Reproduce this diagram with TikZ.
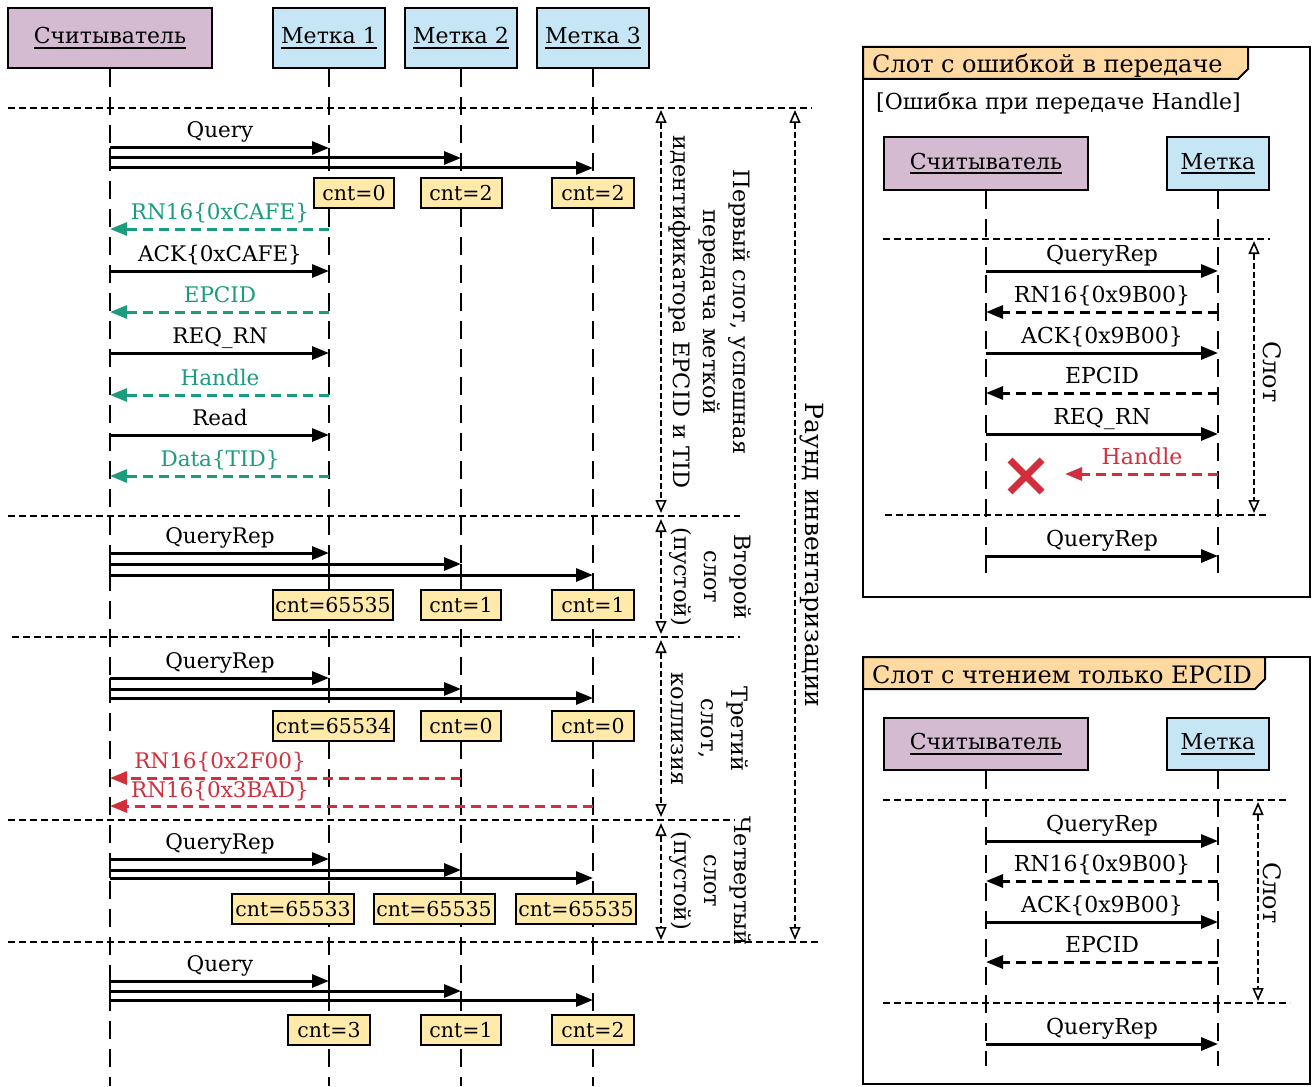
\documentclass[tikz,border=0pt]{standalone}
\usepackage{fontspec}
\setmainfont{DejaVu Serif}
\usetikzlibrary{arrows.meta}
\definecolor{readerc}{HTML}{D4BBD2}
\definecolor{tagc}{HTML}{C6E5F5}
\definecolor{cntc}{HTML}{FFEAAA}
\definecolor{tabc}{HTML}{FFD9A2}
\definecolor{okc}{HTML}{1C9C7E}
\definecolor{errc}{HTML}{D22F3E}
\newcommand\ulbox[1]{\setbox0=\hbox{#1}\rlap{\rule[-5pt]{\wd0}{1.8pt}}\box0}
\begin{document}
\begin{tikzpicture}[x=1pt,y=-1pt,
  font=\fontsize{22}{26}\selectfont,
  actor/.style={draw, line width=2pt, minimum height=60pt, inner sep=0pt},
  reader/.style={actor, fill=readerc, minimum width=204pt},
  tagbox/.style={actor, fill=tagc, minimum width=112pt},
  life/.style={line width=2pt, dash pattern=on 18pt off 10pt},
  sep/.style={line width=1.6pt, dash pattern=on 7pt off 4pt},
  msg/.style={line width=3pt, -{Triangle[length=17pt,width=13pt]}},
  ret/.style={msg, dash pattern=on 10pt off 6pt},
  cnt/.style={draw, fill=cntc, line width=2pt, minimum height=30pt, inner sep=0pt, font=\fontsize{20.5}{24}\selectfont},
  lbl/.style={anchor=base, inner sep=0pt},
  mlbl/.style={lbl, font=\fontsize{21.5}{26}\selectfont},
  span/.style={line width=1.8pt, dash pattern=on 6pt off 3pt,
    {Triangle[fill=white,length=13pt,width=11pt,line width=1.6pt]}-{Triangle[fill=white,length=13pt,width=11pt,line width=1.6pt]}},
  note/.style={rotate=-90, align=center, inner sep=0pt, font=\fontsize{22.5}{30}\selectfont},
  frame/.style={draw, line width=2.2pt},
  tab/.style={draw, line width=2pt, fill=tabc},
  cross/.style={line width=7pt, errc}
]
\useasboundingbox (0,0) rectangle (1316,1086);

% ---------- main sequence: participants ----------
\node[reader] (R) at (110,38) {\ulbox{Считыватель}};
\node[tagbox] (T1) at (329,38) {\ulbox{Метка 1}};
\node[tagbox] (T2) at (461,38) {\ulbox{Метка 2}};
\node[tagbox] (T3) at (593,38) {\ulbox{Метка 3}};
\coordinate (Rend) at (110,1086);
\coordinate (T1end) at (329,1086);
\coordinate (T2end) at (461,1086);
\coordinate (T3end) at (593,1086);
\foreach \a in {R,T1,T2,T3} \draw[life] (\a.south) -- (\a end);

% slot separators
\draw[sep] (8,108) -- (812,108);
\draw[sep] (8,516) -- (740,516);
\draw[sep] (12,637) -- (740,637);
\draw[sep] (8,820) -- (735,820);
\draw[sep] (8,942) -- (822,942);

% broadcast to all three tags
\newcommand\bcast[4]{%
  \node[mlbl] at (220,#1-10) {#4};
  \draw[msg] (R |- 0,#1) -- (T1 |- 0,#1);
  \draw[msg] (R |- 0,#2) -- (T2 |- 0,#2);
  \draw[msg] (R |- 0,#3) -- (T3 |- 0,#3);
  \draw[line width=2pt] (R |- 0,#1) -- (R |- 0,#3);
  \draw[line width=2pt] (T1 |- 0,#1) -- (T1 |- 0,#3);
  \draw[line width=2pt] (T2 |- 0,#2) -- (T2 |- 0,#3);
}

% ---------- slot 1 ----------
\bcast{148}{158}{168}{Query}
\node[cnt, minimum width=80pt] (c11) at (354,193) {cnt=0};
\node[cnt, minimum width=81pt] (c12) at (461,193) {cnt=2};
\node[cnt, minimum width=82pt] (c13) at (593,193) {cnt=2};
\node[mlbl, okc] (m1) at (220,219) {RN16\{0xCAFE\}};
\draw[ret, okc] (T1 |- 0,229) -- (R |- 0,229);
\node[mlbl] (m2) at (220,261) {ACK\{0xCAFE\}};
\draw[msg] (R |- 0,271) -- (T1 |- 0,271);
\node[mlbl, okc] (m3) at (220,302) {EPCID};
\draw[ret, okc] (T1 |- 0,312) -- (R |- 0,312);
\node[mlbl] (m4) at (220,343) {REQ\_RN};
\draw[msg] (R |- 0,353) -- (T1 |- 0,353);
\node[mlbl, okc] (m5) at (220,385) {Handle};
\draw[ret, okc] (T1 |- 0,395) -- (R |- 0,395);
\node[mlbl] (m6) at (220,425) {Read};
\draw[msg] (R |- 0,435) -- (T1 |- 0,435);
\node[mlbl, okc] (m7) at (220,466) {Data\{TID\}};
\draw[ret, okc] (T1 |- 0,476) -- (R |- 0,476);

% ---------- slot 2 ----------
\bcast{553}{564}{575}{QueryRep}
\node[cnt, minimum width=120pt] (c21) at (333,605) {cnt=65535};
\node[cnt, minimum width=80pt] (c22) at (461,605) {cnt=1};
\node[cnt, minimum width=82pt] (c23) at (593,605) {cnt=1};

% ---------- slot 3 ----------
\bcast{678}{689}{698}{QueryRep}
\node[cnt, minimum width=121pt] (c31) at (333.5,726) {cnt=65534};
\node[cnt, minimum width=80pt] (c32) at (461,726) {cnt=0};
\node[cnt, minimum width=82pt] (c33) at (593,726) {cnt=0};
\node[mlbl, errc] (m8) at (220,768) {RN16\{0x2F00\}};
\draw[ret, errc] (T2 |- 0,778) -- (R |- 0,778);
\node[mlbl, errc] (m9) at (220,797) {RN16\{0x3BAD\}};
\draw[ret, errc] (T3 |- 0,806) -- (R |- 0,806);

% ---------- slot 4 ----------
\bcast{859}{870}{878}{QueryRep}
\node[cnt, minimum width=122pt] (c41) at (293,909) {cnt=65533};
\node[cnt, minimum width=121pt] (c42) at (434,909) {cnt=65535};
\node[cnt, minimum width=120pt] (c43) at (576,909) {cnt=65535};

% ---------- next round ----------
\bcast{981}{991}{1000}{Query}
\node[cnt, minimum width=82pt] (c51) at (329,1030) {cnt=3};
\node[cnt, minimum width=80pt] (c52) at (461,1030) {cnt=1};
\node[cnt, minimum width=82pt] (c53) at (593,1030) {cnt=2};

% ---------- slot spans and round span ----------
\coordinate (s0) at (661,110);
\coordinate (s1a) at (661,513);
\coordinate (s1b) at (661,519);
\coordinate (s2a) at (661,634);
\coordinate (s2b) at (661,640);
\coordinate (s3a) at (661,817);
\coordinate (s3b) at (661,823);
\coordinate (s4) at (661,940);
\draw[span] (s0) -- (s1a);
\draw[span] (s1b) -- (s2a);
\draw[span] (s2b) -- (s3a);
\draw[span] (s3b) -- (s4);
\node[note] (n1) at (710,312) {Первый слот, успешная\\передача меткой\\идентификатора EPCID и TID};
\node[note] (n2) at (710,577) {Второй\\слот\\(пустой)};
\node[note] (n3) at (710,729) {Третий\\слот,\\коллизия};
\node[note] (n4) at (710,881) {Четвертый\\слот\\(пустой)};
\coordinate (r0) at (795,110);
\coordinate (r1) at (795,940);
\draw[span] (r0) -- (r1);
\node[note, font=\fontsize{25}{30}\selectfont] (n5) at (812,555) {Раунд инвентаризации};

% ---------- fragment: transmission error ----------
\draw[frame] (863,47) rectangle (1310,597);
\draw[tab] (863,47) -- (1248,47) -- (1248,69) -- (1238,79) -- (863,79) -- cycle;
\node[anchor=base west, inner sep=0pt, font=\fontsize{24}{28}\selectfont] (f1) at (872,73) {Слот с ошибкой в передаче};
\node[anchor=base west, inner sep=0pt, font=\fontsize{22}{26}\selectfont] (g1) at (876,110) {[Ошибка при передаче Handle]};
\node[reader, minimum height=53pt] (RA) at (986,163.5) {\ulbox{Считыватель}};
\node[tagbox, minimum width=102pt, minimum height=53pt] (TA) at (1218,163.5) {\ulbox{Метка}};
\coordinate (RAend) at (986,578);
\coordinate (TAend) at (1218,578);
\draw[life] (RA.south) -- (RAend);
\draw[life] (TA.south) -- (TAend);
\draw[sep] (883,239) -- (1270,239);
\draw[sep] (885,515) -- (1270,515);
\node[lbl] (a1) at (1102,261) {QueryRep};
\draw[msg] (RA |- 0,271) -- (TA |- 0,271);
\node[lbl] (a2) at (1102,302) {RN16\{0x9B00\}};
\draw[ret] (TA |- 0,312) -- (RA |- 0,312);
\node[lbl] (a3) at (1102,343) {ACK\{0x9B00\}};
\draw[msg] (RA |- 0,353) -- (TA |- 0,353);
\node[lbl] (a4) at (1102,383) {EPCID};
\draw[ret] (TA |- 0,393) -- (RA |- 0,393);
\node[lbl] (a5) at (1102,424) {REQ\_RN};
\draw[msg] (RA |- 0,434) -- (TA |- 0,434);
\node[lbl, errc] (a6) at (1142,464) {Handle};
\coordinate (lost) at (1065,474);
\draw[ret, errc] (TA |- 0,474) -- (lost);
\draw[cross] (1010,460) -- (1042,492);
\draw[cross] (1042,460) -- (1010,492);
\node[lbl] (a7) at (1102,546) {QueryRep};
\draw[msg] (RA |- 0,556) -- (TA |- 0,556);
\coordinate (sa0) at (1254,241);
\coordinate (sa1) at (1254,513);
\draw[span] (sa0) -- (sa1);
\node[note, font=\fontsize{24}{28}\selectfont] (na) at (1272,372) {Слот};

% ---------- fragment: EPCID only ----------
\draw[frame] (863,657) rectangle (1310,1084);
\draw[tab] (863,657) -- (1265,657) -- (1265,679) -- (1255,689) -- (863,689) -- cycle;
\node[anchor=base west, inner sep=0pt, font=\fontsize{24}{28}\selectfont] (f2) at (872,683) {Слот с чтением только EPCID};
\node[reader, minimum height=52pt] (RB) at (986,744) {\ulbox{Считыватель}};
\node[tagbox, minimum width=102pt, minimum height=52pt] (TB) at (1218,744) {\ulbox{Метка}};
\coordinate (RBend) at (986,1066);
\coordinate (TBend) at (1218,1066);
\draw[life] (RB.south) -- (RBend);
\draw[life] (TB.south) -- (TBend);
\draw[sep] (883,800) -- (1287,800);
\draw[sep] (883,1003) -- (1290,1003);
\node[lbl] (b1) at (1102,831) {QueryRep};
\draw[msg] (RB |- 0,841) -- (TB |- 0,841);
\node[lbl] (b2) at (1102,871) {RN16\{0x9B00\}};
\draw[ret] (TB |- 0,881) -- (RB |- 0,881);
\node[lbl] (b3) at (1102,912) {ACK\{0x9B00\}};
\draw[msg] (RB |- 0,922) -- (TB |- 0,922);
\node[lbl] (b4) at (1102,952) {EPCID};
\draw[ret] (TB |- 0,962) -- (RB |- 0,962);
\node[lbl] (b5) at (1102,1034) {QueryRep};
\draw[msg] (RB |- 0,1044) -- (TB |- 0,1044);
\coordinate (sb0) at (1258,802);
\coordinate (sb1) at (1258,1001);
\draw[span] (sb0) -- (sb1);
\node[note, font=\fontsize{24}{28}\selectfont] (nb) at (1272,893) {Слот};
\end{tikzpicture}
\end{document}
